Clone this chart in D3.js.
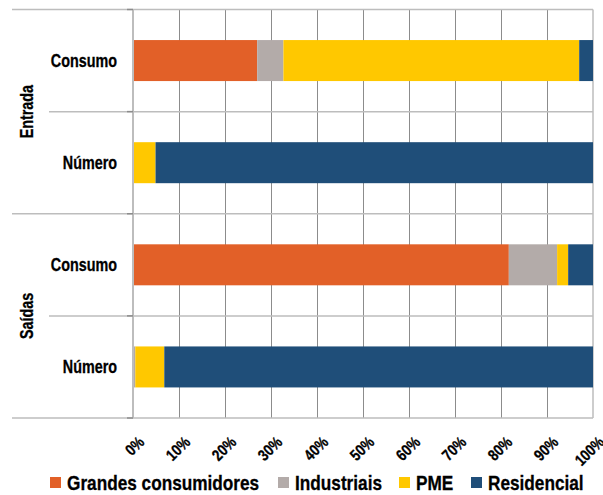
<!DOCTYPE html>
<html><head><meta charset="utf-8">
<script src="https://cdn.jsdelivr.net/npm/d3@7/dist/d3.min.js"></script>
<style>
body{margin:0;background:#fff;}
text{font-family:"Liberation Sans",Arial,sans-serif;font-weight:bold;fill:#000;stroke:#000;stroke-width:0.3px;}
</style></head>
<body><svg id="c" width="603" height="495"></svg>
<script>
const groups = ["Entrada","Entrada","Saídas","Saídas"];
const categories = ["Consumo","Número","Consumo","Número"];
const seriesNames = ["Grandes consumidores","Industriais","PME","Residencial"];
const colors = ["#E26028","#B3ABA9","#FFC800","#1F4E79"];
const grandes = [27.0, 0.0, 81.7, 0.0];
const industriais = [5.7, 0.1, 10.5, 0.5];
const pme = [64.3, 4.8, 2.4, 6.3];
const residencial = [3.0, 95.1, 5.4, 93.2];
const tickLabels = ["0%","10%","20%","30%","40%","50%","60%","70%","80%","90%","100%"];

const NARROW = 0.82;
const svg = d3.select("#c");
const L = 133, R = 593, T = 9.5, B = 418;
const x = d3.scaleLinear().domain([0,100]).range([L,R]);
const idx = d3.range(categories.length);
const y = d3.scaleBand().domain(idx).range([T,B]).paddingInner(0).paddingOuter(0);
const barH = 41;

const rows = idx.map(i => ({i, vals:[grandes[i],industriais[i],pme[i],residencial[i]]}));

// vertical grid lines
const g = svg.append("g");
g.selectAll("line.v").data(d3.range(10,100,10)).enter().append("line")
  .attr("x1",d=>x(d)).attr("x2",d=>x(d)).attr("y1",T).attr("y2",B)
  .attr("stroke","#8c8c8c").attr("stroke-width",1).attr("shape-rendering","crispEdges");
// horizontal lines at band boundaries
const bounds = idx.map(i=>y(i)).concat([B]);
g.selectAll("line.h").data(bounds).enter().append("line")
  .attr("x1",(d,k)=> (k%2===0)?12:49).attr("x2",R)
  .attr("y1",d=>d).attr("y2",d=>d)
  .attr("stroke","#bdbdbd").attr("stroke-width",1.5);
// right border
g.append("line").attr("x1",R).attr("x2",R).attr("y1",T).attr("y2",B).attr("stroke","#bdbdbd").attr("stroke-width",1.5);

// bars
rows.forEach(r=>{
  let acc=0;
  r.vals.forEach((v,s)=>{
    if(v>0){
      svg.append("rect").attr("x",x(acc)).attr("width",x(acc+v)-x(acc))
        .attr("y",y(r.i)+y.bandwidth()/2-barH/2).attr("height",barH)
        .attr("fill",colors[s]);
    }
    acc+=v;
  });
});

// left axis line
svg.append("line").attr("x1",L).attr("x2",L).attr("y1",T).attr("y2",B).attr("stroke","#bdbdbd").attr("stroke-width",2);
// small ticks
svg.selectAll("line.t").data(bounds).enter().append("line")
  .attr("x1",127).attr("x2",L).attr("y1",d=>d).attr("y2",d=>d)
  .attr("stroke","#8c8c8c").attr("stroke-width",1.5);

// category labels
svg.selectAll("text.cat").data(idx).enter().append("text")
  .attr("transform",i=>`translate(117,${y(i)+y.bandwidth()/2}) scale(${NARROW},1)`)
  .attr("dy","0.36em")
  .attr("text-anchor","end").attr("font-size",17.5).text(i=>categories[i]);

// group labels
const grpNames = Array.from(new Set(groups));
grpNames.forEach(gn=>{
  const ids = idx.filter(i=>groups[i]===gn);
  const cy = (y(ids[0]) + y(ids[ids.length-1]) + y.bandwidth())/2;
  svg.append("text").attr("transform",`translate(32.5,${cy}) rotate(-90) scale(${NARROW},1)`)
    .attr("text-anchor","middle").attr("font-size",17.5).text(gn);
});

// x tick labels
svg.selectAll("text.xt").data(tickLabels).enter().append("text")
  .attr("transform",(d,k)=>`translate(${x(k*10)+4},${435}) rotate(-45) scale(${NARROW},1)`)
  .attr("text-anchor","end").attr("dy","0.72em").attr("font-size",16).text(d=>d);

// legend
const legX = [50,278,399,471];
seriesNames.forEach((n,s)=>{
  svg.append("rect").attr("x",legX[s]).attr("y",477).attr("width",11).attr("height",11).attr("fill",colors[s]);
  svg.append("text").attr("transform",`translate(${legX[s]+17},490) scale(${NARROW},1)`)
    .attr("font-size",21).text(n);
});
</script></body></html>
